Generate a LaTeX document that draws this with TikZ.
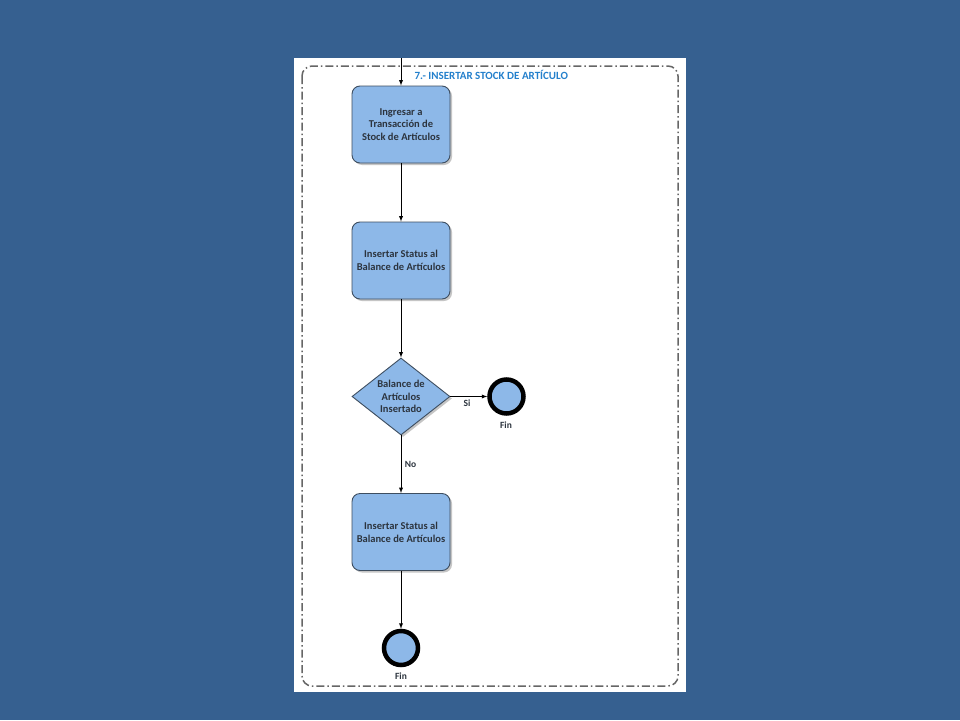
\documentclass[tikz,border=0pt]{standalone}
\usepackage{fontspec}
\setmainfont{Carlito}
\usetikzlibrary{arrows,shapes.geometric,shadows,positioning}
\definecolor{fondo}{RGB}{54,96,144}
\definecolor{caja}{RGB}{141,184,232}
\definecolor{borde}{RGB}{62,78,96}
\definecolor{texto}{RGB}{44,52,62}
\definecolor{titulo}{RGB}{36,128,204}

\tikzset{
  tarea/.style={draw=borde, fill=caja, rounded corners=8pt, line width=0.9pt,
    minimum width=98pt, minimum height=77pt, align=center, text=texto,
    font=\bfseries\fontsize{10.5}{12.8}\selectfont,
    drop shadow={shadow xshift=2pt, shadow yshift=-2pt, fill=black!45}},
  decision/.style={diamond, draw=borde, fill=caja, line width=0.9pt, aspect=1.27,
    inner sep=0pt, minimum width=98pt, minimum height=77pt, align=center, text=texto,
    font=\bfseries\fontsize{10.5}{12.8}\selectfont,
    drop shadow={shadow xshift=2pt, shadow yshift=-2pt, fill=black!45}},
  fin/.style={circle, draw=black, fill=caja, line width=4.5pt, minimum size=34pt, inner sep=0pt},
  etiqueta/.style={text=texto, font=\bfseries\fontsize{9.5}{11}\selectfont},
  flecha/.style={-latex, line width=0.9pt}
}

\begin{document}
\begin{tikzpicture}[x=1pt,y=-1pt]
\fill[fondo] (0,0) rectangle (960,720);
\useasboundingbox (0,0) rectangle (960,720);
\fill[white] (294,58) rectangle (686,692);
\draw[black!60, line width=1.5pt, rounded corners=10pt,
  dash pattern=on 8pt off 3pt on 1.5pt off 3pt] (302,66) rectangle (678,686);
\node[anchor=west, text=titulo, font=\bfseries\fontsize{11}{13}\selectfont] (titulo) at (411,75) {7.- INSERTAR STOCK DE ARTÍCULO};

\coordinate (entrada) at (401,58);
\node[tarea] (ingresar) at (401,124.5) {Ingresar a\\Transacción de\\Stock de Artículos};
\node[tarea] (status1) at (401,260.5) {Insertar Status al\\Balance de Artículos};
\node[decision] (balance) at (401,396.5) {Balance de\\Artículos\\Insertado};
\node[fin] (fin1) at (506.5,396.5) {};
\node[etiqueta] (fintxt1) at (506,425) {Fin};
\node[tarea] (status2) at (401,532) {Insertar Status al\\Balance de Artículos};
\node[fin] (fin2) at (401,648) {};
\node[etiqueta] (fintxt2) at (401,676) {Fin};

\draw[flecha] (entrada) -- (ingresar);
\draw[flecha] (ingresar) -- (status1);
\draw[flecha] (status1) -- (balance);
\draw[flecha] (balance) -- node[etiqueta, below, pos=0.45] {Si} (fin1);
\draw[flecha] (balance) -- node[etiqueta, right, pos=0.5] {No} (status2);
\draw[flecha] (status2) -- (fin2);
\end{tikzpicture}
\end{document}
